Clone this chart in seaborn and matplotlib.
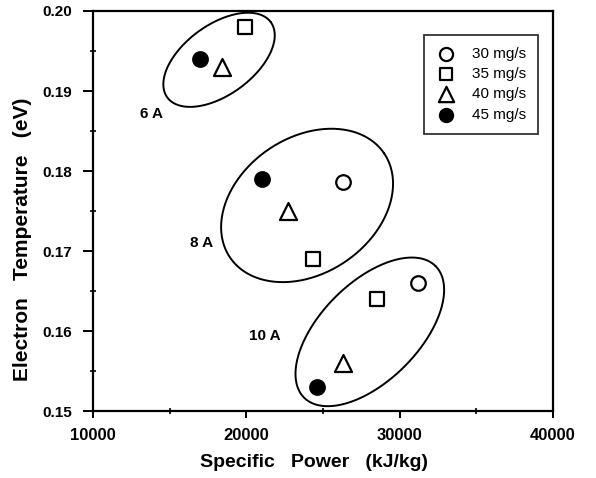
import numpy as np
import pandas as pd
import matplotlib
matplotlib.use("Agg")
import matplotlib.pyplot as plt
import seaborn as sns

# ---- data ----
flow_labels = ["30 mg/s", "35 mg/s", "40 mg/s", "45 mg/s"]
power_30 = [26300, 31200]
temp_30 = [0.1786, 0.166]
power_35 = [19900, 24350, 28500]
temp_35 = [0.198, 0.169, 0.164]
power_40 = [18400, 22700, 26300]
temp_40 = [0.193, 0.175, 0.156]
power_45 = [17000, 21000, 24600]
temp_45 = [0.194, 0.179, 0.153]

current_labels = ["6 A", "8 A", "10 A"]
label_x = [13800, 17050, 21200]
label_y = [0.1871, 0.1710, 0.1594]

x_ticks = [10000, 20000, 30000, 40000]
x_ticklabels = ["10000", "20000", "30000", "40000"]
y_ticks = [0.15, 0.16, 0.17, 0.18, 0.19, 0.20]
y_ticklabels = ["0.15", "0.16", "0.17", "0.18", "0.19", "0.20"]

# ellipses around each current group: center (data), semi-axes (px), angle (deg)
ell_cx = [18220, 23960, 28050]
ell_cy = [0.1939, 0.1757, 0.1599]
ell_a = [64, 93, 93]
ell_b = [35, 68, 49]
ell_ang = [36, 34, 45]

sns.set_theme(style="ticks")
plt.rcParams["font.family"] = ["Liberation Sans", "DejaVu Sans"]
plt.rcParams.update({"text.color": "black", "axes.labelcolor": "black",
                     "xtick.color": "black", "ytick.color": "black"})

fig = plt.figure(figsize=(5.96, 4.78), dpi=100)
ax = fig.add_axes([0.156, 0.140, 0.772, 0.837])

x0, x1 = 10000, 40000
y0, y1 = 0.15, 0.20
ax.set_xlim(x0, x1)
ax.set_ylim(y0, y1)

series = [
    (power_30, temp_30, "o", "white", 110),
    (power_35, temp_35, "s", "white", 105),
    (power_40, temp_40, "^", "white", 150),
    (power_45, temp_45, "o", "black", 110),
]
for (px, py, mk, fc, sz), lab in zip(series, flow_labels):
    df = pd.DataFrame({"p": px, "t": py})
    sns.scatterplot(data=df, x="p", y="t", marker=mk, s=sz, facecolor=fc,
                    edgecolor="black", linewidth=1.6, label=lab, ax=ax, zorder=3)

# ellipses, defined in pixel units, converted to data units
axw_px = 0.772 * 596
axh_px = 0.837 * 478
sx = (x1 - x0) / axw_px
sy = (y1 - y0) / axh_px
t = np.linspace(0, 2 * np.pi, 300)
for cx, cy, a, b, ang in zip(ell_cx, ell_cy, ell_a, ell_b, ell_ang):
    th = np.deg2rad(ang)
    dx = a * np.cos(t) * np.cos(th) - b * np.sin(t) * np.sin(th)
    dy = a * np.cos(t) * np.sin(th) + b * np.sin(t) * np.cos(th)
    ax.plot(cx + dx * sx, cy + dy * sy, color="black", lw=1.4, zorder=2)

for lx, ly, lab in zip(label_x, label_y, current_labels):
    ax.text(lx, ly, lab, fontsize=11, fontweight="bold", ha="center", va="center")

ax.set_xticks(x_ticks)
ax.set_xticks([15000, 25000, 35000], minor=True)
ax.set_yticks(y_ticks)
ax.set_yticks([0.155, 0.165, 0.175, 0.185, 0.195], minor=True)
ax.set_xticklabels(x_ticklabels)
ax.set_yticklabels(y_ticklabels)
ax.tick_params(axis="x", which="major", direction="out", length=5, width=1.4,
               labelsize=12, pad=7)
ax.tick_params(axis="y", which="major", direction="out", length=7, width=1.4,
               labelsize=11, pad=8)
ax.tick_params(axis="both", which="minor", direction="inout", length=5, width=1.2)
for lbl in ax.get_xticklabels() + ax.get_yticklabels():
    lbl.set_fontweight("bold")
for sp in ax.spines.values():
    sp.set_visible(True)
    sp.set_linewidth(1.6)
    sp.set_color("black")

ax.set_xlabel("Specific   Power   (kJ/kg)", fontsize=14, fontweight="bold")
ax.set_ylabel("Electron   Temperature   (eV)", fontsize=15, fontweight="bold")
ax.xaxis.set_label_coords(0.48, -0.108)
ax.yaxis.set_label_coords(-0.133, 0.43)

leg = ax.legend(loc="upper right", bbox_to_anchor=(0.967, 0.94), frameon=True,
                fancybox=False, edgecolor="black", fontsize=11,
                handletextpad=1.0, labelspacing=0.4, borderpad=0.8,
                borderaxespad=0.0, handlelength=1.3, markerscale=0.9)
leg.get_frame().set_linewidth(1.3)

fig.savefig("out.png", dpi=100)
